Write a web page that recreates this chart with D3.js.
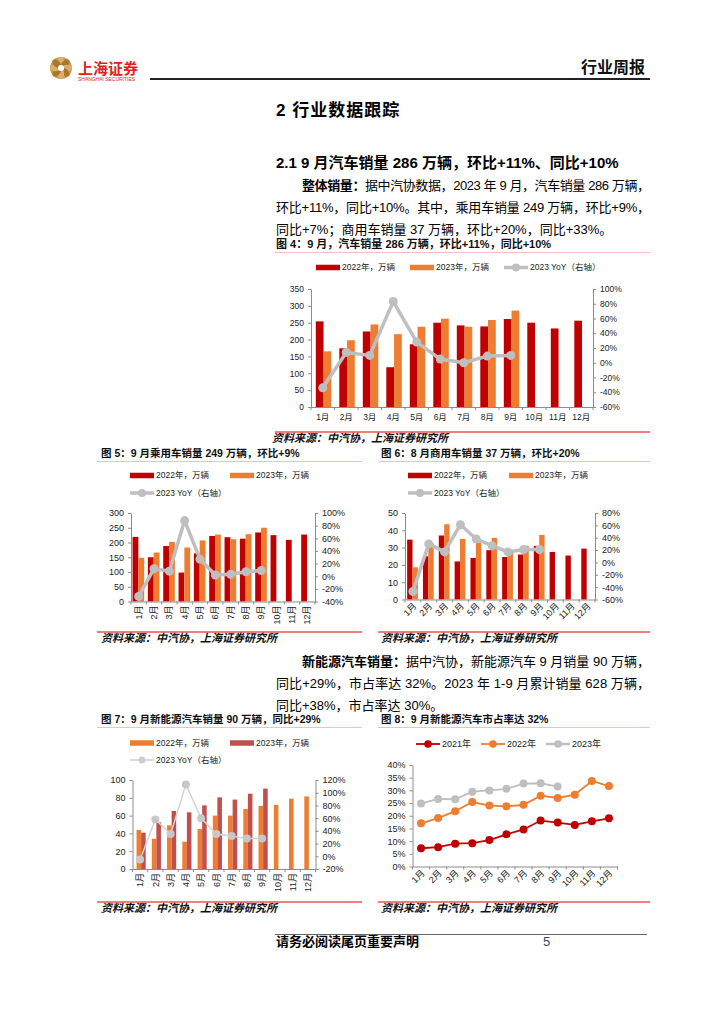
<!DOCTYPE html>
<html><head><meta charset="utf-8">
<script src="https://cdn.jsdelivr.net/npm/d3@7"></script>
<style>
body{margin:0;background:#fff}
svg{display:block}
text{font-family:"Liberation Sans","Noto Sans CJK SC",sans-serif}
</style>
</head><body>
<svg id="page" width="724" height="1024"></svg>
<script>
// ---------------- DATA ----------------
const months = ["1月","2月","3月","4月","5月","6月","7月","8月","9月","10月","11月","12月"];

// 图4 汽车销量（万辆）
const total2022 = [254,174,224,118,186,250,242,239,261,250,233,256];
const total2023 = [165,198,245,216,238,262,238,258,286];
const totalYoY  = [-34,14,10,83,28,5,0,9,10];
const totalLeftTicks  = [0,50,100,150,200,250,300,350];
const totalRightTicks = [-60,-40,-20,0,20,40,60,80,100];

// 图5 乘用车销量（万辆）
const pv2022 = [219,150,188,98,163,222,218,213,234,225,209,227];
const pv2023 = [148,166,202,183,207,227,211,228,250];
const pvYoY  = [-32,12,8,88,27,2,3,7,9];
const pvLeftTicks  = [0,50,100,150,200,250,300];
const pvRightTicks = [-40,-20,0,20,40,60,80,100];

// 图6 商用车销量（万辆）
const cv2022 = [34.6,25,37,22,24,28.5,24.6,26,31,27.5,25.4,29.4];
const cv2023 = [18.6,32.5,43.5,35,33,35.6,28.8,31,37.3];
const cvYoY  = [-47,30,17,61,38,27,17,21,21];
const cvLeftTicks  = [0,10,20,30,40,50];
const cvRightTicks = [-60,-40,-20,0,20,40,60,80];

// 图7 新能源汽车销量（万辆）
const nev2022 = [43.8,34,49,30.7,45,60,60,67.4,71,72,79,81.6];
const nev2023 = [40.8,52.5,65.2,63.7,71.5,80.5,78,84.6,90.3];
const nevYoY  = [-5,58,35,113,60,35,32,28,28];
const nevLeftTicks  = [0,20,40,60,80,100];
const nevRightTicks = [-20,0,20,40,60,80,100,120];

// 图8 新能源汽车市占率（%）
const pen2021 = [7.2,7.6,9.0,9.2,10.4,12.7,14.6,18.1,17.3,16.4,17.8,19.0];
const pen2022 = [17.0,19.1,21.8,25.4,24.0,23.7,24.3,27.9,27.0,28.3,33.7,31.7];
const pen2023 = [24.8,26.6,26.5,29.5,30.0,30.6,32.7,32.8,31.5];
const penTicks = [0,5,10,15,20,25,30,35,40];

const C_RED = "#C00000", C_ORANGE = "#ED7D31", C_GREY = "#BFBFBF", C_NEVRED = "#C0504D";

// ---------------- PAGE ----------------
const svg = d3.select("#page");

// header logo
const logo = svg.append("g").attr("transform","translate(61,68)");
logo.append("circle").attr("r",11).attr("fill","#c79a4e");
d3.range(8).forEach(i=>{
  logo.append("ellipse").attr("rx",3.2).attr("ry",5.2)
    .attr("transform",`rotate(${i*45}) translate(0,-6)`)
    .attr("fill", i%2 ? "#a8762e" : "#d9b06a");
});
logo.append("circle").attr("r",3).attr("fill","#fff");
svg.append("text").attr("x",78).attr("y",74).attr("font-size",15).attr("font-weight","bold")
  .attr("fill","#e0201b").text("上海证券");
svg.append("text").attr("x",78).attr("y",80.5).attr("font-size",4.5).attr("fill","#e0201b")
  .attr("textLength",57).attr("lengthAdjust","spacingAndGlyphs").text("SHANGHAI SECURITIES");
svg.append("text").attr("x",645).attr("y",73).attr("text-anchor","end").attr("font-size",16)
  .attr("font-weight","bold").attr("fill","#111").text("行业周报");
svg.append("line").attr("x1",150).attr("x2",650).attr("y1",79).attr("y2",79)
  .attr("stroke","#222").attr("stroke-width",2);

// headings
svg.append("text").attr("x",276).attr("y",116).attr("font-size",17).attr("font-weight","bold")
  .attr("fill","#000").attr("letter-spacing",1).text("2  行业数据跟踪");
svg.append("text").attr("x",276).attr("y",168).attr("font-size",15).attr("font-weight","bold")
  .attr("fill","#000").text("2.1  9 月汽车销量 286 万辆，环比+11%、同比+10%");

function para(x, y, parts, width){
  const t = svg.append("text").attr("x",x).attr("y",y).attr("font-size",13).attr("fill","#000");
  parts.forEach(p=>{ t.append("tspan").attr("font-weight",p[1]?"bold":"normal").text(p[0]); });
  if(width){ t.attr("textLength",width).attr("lengthAdjust","spacing"); }
}
para(302,190,[["整体销量：",1],["据中汽协数据，2023 年 9 月，汽车销量 286 万辆，",0]],348);
para(276,212,[["环比+11%，同比+10%。其中，乘用车销量 249 万辆，环比+9%，",0]],374);
para(276,234,[["同比+7%；商用车销量 37 万辆，环比+20%，同比+33%。",0]]);

para(302,666,[["新能源汽车销量：",1],["据中汽协，新能源汽车 9 月销量 90 万辆，",0]],348);
para(276,688,[["同比+29%，市占率达 32%。2023 年 1-9 月累计销量 628 万辆，",0]],374);
para(276,710,[["同比+38%，市占率达 30%。",0]]);

function caption(x, y, txt, size, lx1, lx2){
  svg.append("text").attr("x",x).attr("y",y).attr("font-size",size).attr("font-weight","bold")
    .attr("fill","#111").text(txt);
  svg.append("line").attr("x1",lx1).attr("x2",lx2).attr("y1",y+4.5).attr("y2",y+4.5)
    .attr("stroke","#f3c0c0").attr("stroke-width",1);
}
caption(276,248,"图 4：9 月，汽车销量 286 万辆，环比+11%，同比+10%",11,275,650);
caption(101,457,"图 5：9 月乘用车销量 249 万辆，环比+9%",10.5,97,362);
caption(381,457,"图 6：8 月商用车销量 37 万辆，环比+20%",10.5,378,650);
caption(101,723,"图 7：9 月新能源汽车销量 90 万辆，同比+29%",10.5,97,362);
caption(381,723,"图 8：9 月新能源汽车市占率达 32%",10.5,378,650);

function source(x, y, lx1, lx2){
  svg.append("line").attr("x1",lx1).attr("x2",lx2).attr("y1",y-10).attr("y2",y-10)
    .attr("stroke","#e00000").attr("stroke-width",1);
  svg.append("text").attr("x",x).attr("y",y).attr("font-size",11).attr("font-weight","bold")
    .attr("font-style","italic").attr("fill","#111").text("资料来源：中汽协，上海证券研究所");
}
source(272,442,275,650);
source(101,642,97,362);
source(381,642,378,650);
source(101,912,97,362);
source(381,912,378,650);

// footer
svg.append("line").attr("x1",275).attr("x2",647).attr("y1",934.5).attr("y2",934.5)
  .attr("stroke","#666").attr("stroke-width",1);
svg.append("text").attr("x",276).attr("y",946).attr("font-size",13).attr("font-weight","bold")
  .attr("fill","#000").text("请务必阅读尾页重要声明");
svg.append("text").attr("x",543).attr("y",946).attr("font-size",13).attr("fill","#1f4e79").text("5");

// ---------------- CHART HELPERS ----------------
function styleAxis(g, fs){
  g.selectAll(".domain").attr("stroke","#8c8c8c");
  g.selectAll(".tick line").attr("stroke","#8c8c8c");
  g.selectAll("text").attr("fill","#222").attr("font-size",fs)
    .attr("font-family",'"Liberation Sans","Noto Sans CJK SC",sans-serif');
}

function legend(items, fs){
  items.forEach(it=>{
    if(it.type==="rect"){
      svg.append("rect").attr("x",it.x).attr("y",it.y-2.75).attr("width",24).attr("height",5.5).attr("fill",it.color);
    } else {
      svg.append("line").attr("x1",it.x).attr("x2",it.x+24).attr("y1",it.y).attr("y2",it.y)
        .attr("stroke",it.color).attr("stroke-width",it.w||3);
      svg.append("circle").attr("cx",it.x+12).attr("cy",it.y).attr("r",it.r||3.5).attr("fill",it.color);
    }
    svg.append("text").attr("x",it.x+26).attr("y",it.y).attr("dy","0.35em").attr("font-size",fs)
      .attr("fill","#222").text(it.label);
  });
}

function xAxis(g, x, yb, x1, fs, rot){
  const ax = g.append("g").attr("transform",`translate(0,${yb})`)
    .call(d3.axisBottom(x).tickSize(0).tickSizeOuter(0).tickPadding(6));
  styleAxis(ax, fs);
  // boundary ticks
  g.selectAll(null).data(months.concat(["_end"])).join("line")
    .attr("x1",d=>d==="_end"?x1:x(d)).attr("x2",d=>d==="_end"?x1:x(d))
    .attr("y1",yb).attr("y2",yb+3).attr("stroke","#8c8c8c");
  if(rot===-90){
    ax.selectAll(".tick text").attr("y",null).attr("dy","0.35em").attr("text-anchor","end")
      .attr("transform","translate(0,4) rotate(-90)");
  } else if(rot===-45){
    ax.selectAll(".tick text").attr("y",null).attr("dy","0.35em").attr("text-anchor","end")
      .attr("transform","translate(2,5) rotate(-45)");
  } else {
    ax.selectAll(".tick text").attr("y",7);
  }
}

function barLineChart(o){
  const g = svg.append("g");
  const x = d3.scaleBand().domain(months).range([o.x0,o.x1]);
  const yL = d3.scaleLinear().domain(o.left).range([o.yb,o.yt]);
  const yR = d3.scaleLinear().domain(o.right).range([o.yb,o.yt]);
  const bw = x.bandwidth()*o.bw;
  const cx = m => x(m) + x.bandwidth()/2 + o.shift;

  g.selectAll(null).data(o.s1).join("rect")
    .attr("x",(d,i)=>cx(months[i])-bw).attr("width",bw)
    .attr("y",d=>yL(d)).attr("height",d=>yL(0)-yL(d)).attr("fill",o.c1);
  g.selectAll(null).data(o.s2).join("rect")
    .attr("x",(d,i)=>cx(months[i])).attr("width",bw)
    .attr("y",d=>yL(d)).attr("height",d=>yL(0)-yL(d)).attr("fill",o.c2);

  const la = g.append("g").attr("transform",`translate(${o.x0},0)`)
    .call(d3.axisLeft(yL).tickValues(o.lt).tickSize(3).tickSizeOuter(0).tickPadding(4));
  styleAxis(la, o.fs);
  const ra = g.append("g").attr("transform",`translate(${o.x1},0)`)
    .call(d3.axisRight(yR).tickValues(o.rt).tickSize(3).tickSizeOuter(0).tickPadding(4)
      .tickFormat(d=>d+"%"));
  styleAxis(ra, o.fs);
  xAxis(g, x, o.yb, o.x1, o.fs, o.rot);

  const mid = m => x(m) + x.bandwidth()/2;
  const line = d3.line().x((d,i)=>mid(months[i])).y(d=>yR(d));
  g.append("path").datum(o.yoy).attr("d",line).attr("fill","none")
    .attr("stroke",o.lc).attr("stroke-width",o.lw).attr("stroke-linejoin","round");
  g.selectAll(null).data(o.yoy).join("circle")
    .attr("cx",(d,i)=>mid(months[i])).attr("cy",d=>yR(d)).attr("r",o.mr).attr("fill",o.mc);
}

// 图4
legend([
  {type:"rect",x:316,y:267.5,color:C_RED,label:"2022年，万辆"},
  {type:"rect",x:410,y:267.5,color:C_ORANGE,label:"2023年，万辆"},
  {type:"line",x:504,y:267.5,color:C_GREY,label:"2023 YoY（右轴）",w:3.5,r:4}
],8.5);
barLineChart({x0:311,x1:593,yt:289,yb:407,left:[0,350],right:[-60,100],
  lt:totalLeftTicks,rt:totalRightTicks,s1:total2022,s2:total2023,yoy:totalYoY,
  c1:C_RED,c2:C_ORANGE,bw:0.33,shift:0.8,fs:8.5,rot:0,lc:C_GREY,lw:3.5,mr:4.5,mc:C_GREY});

// 图5
legend([
  {type:"rect",x:130,y:475.5,color:C_RED,label:"2022年，万辆"},
  {type:"rect",x:230,y:475.5,color:C_ORANGE,label:"2023年，万辆"},
  {type:"line",x:130,y:493,color:C_GREY,label:"2023 YoY（右轴）",w:3.5,r:4}
],8.5);
barLineChart({x0:131,x1:315,yt:513,yb:601.5,left:[0,300],right:[-40,100],
  lt:pvLeftTicks,rt:pvRightTicks,s1:pv2022,s2:pv2023,yoy:pvYoY,
  c1:C_RED,c2:C_ORANGE,bw:0.38,shift:-0.3,fs:9,rot:-90,lc:C_GREY,lw:3.5,mr:4.5,mc:C_GREY});

// 图6
legend([
  {type:"rect",x:408,y:475.5,color:C_RED,label:"2022年，万辆"},
  {type:"rect",x:509,y:475.5,color:C_ORANGE,label:"2023年，万辆"},
  {type:"line",x:408,y:493,color:C_GREY,label:"2023 YoY（右轴）",w:3.5,r:4}
],8.5);
barLineChart({x0:405,x1:595,yt:513,yb:599.5,left:[0,50],right:[-60,80],
  lt:cvLeftTicks,rt:cvRightTicks,s1:cv2022,s2:cv2023,yoy:cvYoY,
  c1:C_RED,c2:C_ORANGE,bw:0.34,shift:-0.4,fs:9,rot:-45,lc:C_GREY,lw:3.5,mr:4.5,mc:C_GREY});

// 图7
legend([
  {type:"rect",x:130,y:743,color:C_ORANGE,label:"2022年，万辆"},
  {type:"rect",x:230,y:743,color:C_NEVRED,label:"2023年，万辆"},
  {type:"line",x:130,y:760,color:"#cfcfcf",label:"2023 YoY（右轴）",w:1.5,r:3.5}
],8.5);
barLineChart({x0:132.5,x1:315.5,yt:780,yb:869,left:[0,100],right:[-20,120],
  lt:nevLeftTicks,rt:nevRightTicks,s1:nev2022,s2:nev2023,yoy:nevYoY,
  c1:C_ORANGE,c2:C_NEVRED,bw:0.3,shift:1,fs:9,rot:-90,lc:"#d3d3d3",lw:1.5,mr:4,mc:"#c8c8c8"});

// 图8
(function(){
  const o = {x0:412.5,x1:617.5,yt:765,yb:866.5};
  const g = svg.append("g");
  const x = d3.scaleBand().domain(months).range([o.x0,o.x1]);
  const y = d3.scaleLinear().domain([0,40]).range([o.yb,o.yt]);
  const la = g.append("g").attr("transform",`translate(${o.x0},0)`)
    .call(d3.axisLeft(y).tickValues(penTicks).tickSize(3).tickSizeOuter(0).tickPadding(4)
      .tickFormat(d=>d+"%"));
  styleAxis(la, 9);
  xAxis(g, x, o.yb, o.x1, 9, -45);
  const mid = m => x(m)+x.bandwidth()/2;
  const line = d3.line().x((d,i)=>mid(months[i])).y(d=>y(d));
  [[pen2021,C_RED],[pen2022,C_ORANGE],[pen2023,C_GREY]].forEach(([s,c])=>{
    g.append("path").datum(s).attr("d",line).attr("fill","none").attr("stroke",c).attr("stroke-width",1.8);
    g.selectAll(null).data(s).join("circle").attr("cx",(d,i)=>mid(months[i])).attr("cy",d=>y(d))
      .attr("r",4).attr("fill",c);
  });
  legend([
    {type:"line",x:416,y:744,color:C_RED,label:"2021年",w:1.8,r:3.8},
    {type:"line",x:481,y:744,color:C_ORANGE,label:"2022年",w:1.8,r:3.8},
    {type:"line",x:546,y:744,color:C_GREY,label:"2023年",w:2.5,r:3.8}
  ],9);
})();
</script>
</body></html>
